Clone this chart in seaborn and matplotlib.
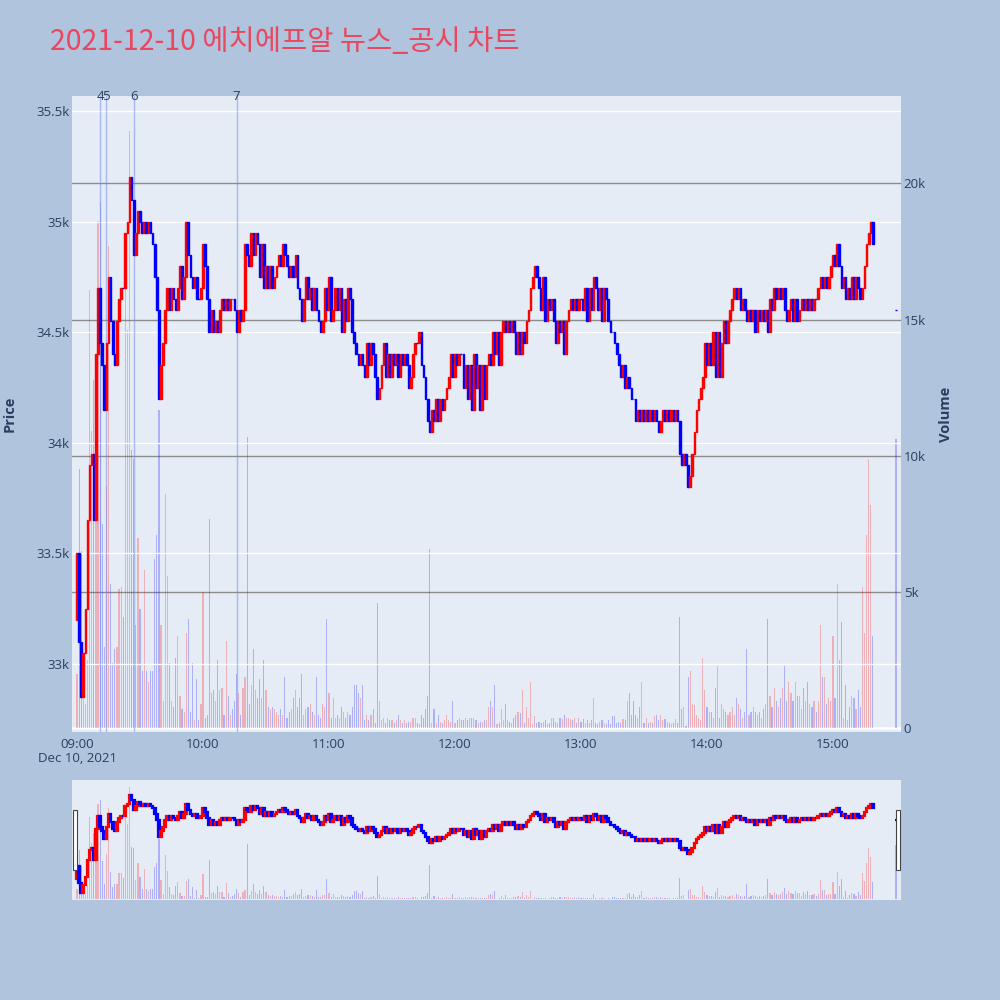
import numpy as np
import pandas as pd
import matplotlib
matplotlib.use("Agg")
import matplotlib.pyplot as plt
import matplotlib.patches as mpatches
import matplotlib.transforms as mtrans
import seaborn as sns

title_text = "2021-12-10 에치에프알 뉴스_공시 차트"

# 1-minute candles, 09:00 .. 15:19, open of first candle then closes
first_open = 33200
close_prices = [
    33500, 33100, 32850, 33050, 33250, 33650, 33900, 33950, 33650, 34400,
    34700, 34450, 34350, 34150, 34450, 34750, 34550, 34400, 34350, 34550,
    34650, 34700, 34700, 34950, 35000, 35200, 35100, 34850, 34950, 35050,
    35000, 34950, 35000, 34950, 35000, 34950, 34900, 34750, 34600, 34200,
    34350, 34450, 34600, 34700, 34600, 34700, 34650, 34600, 34700, 34800,
    34650, 34750, 35000, 34850, 34750, 34700, 34750, 34650, 34650, 34700,
    34900, 34800, 34650, 34500, 34600, 34500, 34550, 34500, 34600, 34650,
    34600, 34650, 34600, 34650, 34650, 34600, 34500, 34600, 34550, 34600,
    34900, 34850, 34800, 34950, 34850, 34950, 34900, 34750, 34900, 34700,
    34800, 34700, 34800, 34700, 34750, 34800, 34850, 34800, 34900, 34850,
    34800, 34750, 34800, 34750, 34850, 34700, 34650, 34550, 34650, 34750,
    34650, 34700, 34600, 34700, 34600, 34550, 34500, 34550, 34700, 34600,
    34750, 34550, 34600, 34700, 34600, 34700, 34500, 34650, 34550, 34700,
    34650, 34500, 34450, 34400, 34350, 34400, 34350, 34300, 34450, 34350,
    34450, 34400, 34300, 34200, 34250, 34350, 34450, 34300, 34400, 34300,
    34400, 34350, 34400, 34300, 34400, 34350, 34400, 34350, 34250, 34300,
    34400, 34450, 34450, 34500, 34350, 34300, 34200, 34100, 34050, 34150,
    34100, 34200, 34100, 34200, 34150, 34200, 34250, 34300, 34400, 34300,
    34400, 34350, 34400, 34400, 34250, 34350, 34200, 34350, 34150, 34400,
    34250, 34350, 34150, 34350, 34200, 34350, 34400, 34350, 34500, 34400,
    34500, 34350, 34500, 34550, 34500, 34550, 34500, 34550, 34500, 34400,
    34500, 34400, 34500, 34450, 34550, 34600, 34700, 34750, 34800, 34750,
    34700, 34600, 34750, 34550, 34650, 34600, 34650, 34550, 34450, 34550,
    34500, 34550, 34400, 34550, 34600, 34650, 34600, 34650, 34600, 34650,
    34650, 34600, 34700, 34550, 34700, 34600, 34750, 34700, 34600, 34700,
    34550, 34700, 34650, 34550, 34500, 34500, 34450, 34400, 34350, 34300,
    34350, 34250, 34300, 34250, 34200, 34200, 34100, 34150, 34100, 34150,
    34100, 34150, 34100, 34150, 34100, 34150, 34100, 34050, 34100, 34150,
    34100, 34150, 34100, 34150, 34100, 34150, 34100, 33950, 33900, 33950,
    33900, 33800, 33850, 33950, 34050, 34150, 34200, 34250, 34300, 34450,
    34350, 34450, 34350, 34500, 34300, 34500, 34300, 34450, 34550, 34450,
    34550, 34600, 34650, 34700, 34650, 34700, 34600, 34650, 34600, 34550,
    34600, 34550, 34600, 34500, 34600, 34550, 34600, 34550, 34600, 34500,
    34650, 34600, 34700, 34650, 34700, 34650, 34700, 34600, 34550, 34600,
    34650, 34550, 34650, 34550, 34600, 34650, 34600, 34650, 34600, 34650,
    34600, 34650, 34650, 34700, 34750, 34700, 34750, 34700, 34750, 34800,
    34850, 34800, 34900, 34800, 34700, 34750, 34650, 34700, 34650, 34750,
    34650, 34750, 34700, 34650, 34700, 34800, 34900, 34950, 35000, 34900,
]
volumes = [
    2000, 9500, 6500, 1400, 900, 2500, 16100, 10900, 12800, 8000,
    18600, 19300, 7500, 3000, 8900, 17700, 5300, 2400, 2900, 3000,
    5100, 5200, 4100, 17500, 14600, 21900, 10200, 9900, 3800, 7000,
    4400, 2100, 5800, 2100, 1700, 2100, 2100, 6200, 7100, 11700,
    3800, 1000, 8600, 5600, 2400, 1000, 800, 2600, 3400, 1200,
    700, 600, 3500, 4000, 600, 2400, 300, 1800, 300, 900,
    5000, 400, 500, 7700, 1300, 1400, 1000, 2500, 1400, 1500,
    500, 3200, 1200, 500, 700, 1000, 2000, 1300, 500, 1500,
    1900, 10700, 900, 1600, 2900, 1400, 1100, 1800, 1100, 2500,
    1400, 800, 700, 800, 700, 600, 500, 700, 500, 1900,
    400, 600, 700, 1100, 1400, 800, 1100, 2000, 500, 700,
    800, 900, 600, 500, 1900, 500, 400, 900, 800, 4000,
    1300, 400, 1100, 400, 500, 400, 800, 600, 400, 600,
    500, 800, 1600, 1600, 1300, 1100, 1600, 300, 500, 300,
    500, 700, 200, 4600, 1000, 300, 400, 200, 400, 300,
    300, 200, 300, 500, 300, 200, 300, 200, 250, 250,
    400, 400, 200, 150, 500, 400, 700, 1200, 6600, 200,
    700, 200, 500, 250, 200, 300, 500, 300, 250, 1000,
    200, 300, 400, 300, 300, 400, 300, 400, 400, 400,
    300, 200, 250, 250, 300, 300, 800, 1000, 800, 1600,
    150, 200, 700, 300, 900, 300, 250, 200, 400, 500,
    600, 550, 1400, 200, 800, 400, 1700, 150, 450, 200,
    250, 200, 250, 300, 150, 200, 400, 400, 250, 200,
    400, 350, 500, 400, 400, 350, 300, 400, 200, 400,
    250, 350, 200, 300, 200, 300, 1100, 200, 150, 250,
    300, 200, 150, 300, 150, 450, 450, 200, 250, 200,
    350, 300, 1000, 1300, 500, 1000, 500, 400, 800, 1700,
    200, 400, 200, 250, 200, 450, 500, 300, 500, 300,
    350, 250, 200, 150, 200, 350, 200, 4100, 700, 800,
    100, 1900, 2100, 900, 850, 500, 400, 300, 2600, 1400,
    800, 600, 600, 400, 1500, 2300, 400, 900, 700, 600,
    500, 600, 800, 500, 1100, 900, 700, 400, 600, 2900,
    500, 600, 800, 600, 500, 600, 400, 700, 900, 4000,
    1200, 800, 1500, 1000, 800, 1100, 1500, 2300, 1000, 1700,
    1300, 1000, 1700, 1200, 1200, 700, 1500, 1000, 1700, 900,
    800, 1000, 600, 1000, 3800, 1900, 1900, 900, 1100, 1000,
    3400, 1100, 5300, 2500, 3900, 400, 1600, 300, 800, 1200,
    1100, 700, 1400, 800, 5200, 3500, 7100, 9900, 8200, 3400,
]
# closing auction at 15:30
auction_minute = 390
auction_price = 34600
auction_volume = 10600

news_minutes = [11, 14, 27, 76]
news_labels = ["4", "5", "6", "7"]

time_ticks = [0, 60, 120, 180, 240, 300, 360]
time_labels = ["09:00", "10:00", "11:00", "12:00", "13:00", "14:00", "15:00"]
price_ticks = [33000, 33500, 34000, 34500, 35000, 35500]
volume_ticks = [0, 5000, 10000, 15000, 20000]
volume_labels = ["0", "5k", "10k", "15k", "20k"]

page_bg = "#B0C4DE"
plot_bg = "#E5ECF6"
txt_col = "#2a3f5f"
up_col = "#FF0000"
down_col = "#0000FF"

sns.set_theme(style="white")
plt.rcParams['font.family'] = ['Open Sans', 'Noto Sans CJK KR', 'DejaVu Sans']

n = len(close_prices)
df = pd.DataFrame({
    'minute': list(range(n)) + [auction_minute],
    'open': [first_open] + close_prices[:-1] + [auction_price],
    'close': close_prices + [auction_price],
    'volume': volumes + [auction_volume],
})
df['color'] = np.where(df['close'] > df['open'], up_col, down_col)


def draw_traces(ax_v, ax_p, edge_lw):
    ax_v.bar(df['minute'], df['volume'], width=0.55, color=df['color'],
             alpha=0.25, linewidth=0, zorder=2)
    ax_p.bar(df['minute'], df['close'] - df['open'], bottom=df['open'],
             width=0.8, color=df['color'], edgecolor=df['color'],
             linewidth=edge_lw, zorder=3)
    ax_v.set_xlim(-2.4, 392.4)
    ax_v.set_ylim(-130, 23200)
    ax_p.set_ylim(32693, 35568)
    for a in (ax_v, ax_p):
        a.set_facecolor(plot_bg)
        for s in a.spines.values():
            s.set_visible(False)
    ax_p.patch.set_visible(False)


fig = plt.figure(figsize=(10, 10), dpi=100, facecolor=page_bg)

# main chart: volume underneath, price on top
ax_v = fig.add_axes([0.072, 0.268, 0.829, 0.636])
ax_p = ax_v.twinx()
draw_traces(ax_v, ax_p, 1.0)

ax_v.yaxis.set_ticks_position('right')
ax_p.yaxis.set_ticks_position('left')
ax_v.set_yticks(volume_ticks, volume_labels)
ax_p.set_yticks(price_ticks, ["{:g}k".format(p / 1000) for p in price_ticks])
ax_v.set_xticks(time_ticks, time_labels)
ax_v.tick_params(axis='both', length=0, labelsize=9.5, labelcolor=txt_col)
ax_v.tick_params(axis='y', pad=2)
ax_v.tick_params(axis='x', pad=4)
ax_p.tick_params(axis='y', length=0, labelsize=9.5, labelcolor=txt_col, pad=2)

ax_v.grid(axis='y', color='#8c8c8c', linewidth=1.0)
ax_v.grid(axis='x', visible=False)
ax_v.axhline(0, color='white', linewidth=2, zorder=1.5)
ax_p.grid(axis='y', color='white', linewidth=1.0)
ax_p.grid(axis='x', visible=False)
ax_p.set_axisbelow(True)

trans = mtrans.blended_transform_factory(ax_p.transData, ax_p.transAxes)
for m, lab in zip(news_minutes, news_labels):
    ax_p.axvline(m, color='#6f8ff0', alpha=0.55, linewidth=1, zorder=2.5)
    ax_p.text(m, 1.0, lab, transform=trans, ha='center', va='center',
              fontsize=9.5, color=txt_col)

# range slider
ax_sv = fig.add_axes([0.072, 0.100, 0.829, 0.120])
ax_sp = ax_sv.twinx()
draw_traces(ax_sv, ax_sp, 1.6)
for a in (ax_sv, ax_sp):
    a.set_xticks([])
    a.set_yticks([])
    a.grid(False)

for hx in (0.073, 0.896):
    fig.patches.append(mpatches.Rectangle((hx, 0.130), 0.004, 0.060,
                                          transform=fig.transFigure,
                                          facecolor='white', edgecolor='#444444',
                                          linewidth=0.8, zorder=5))

fig.text(0.05, 0.958, title_text, fontsize=20.5, color='#E9475F',
         family=['Noto Sans CJK KR', 'DejaVu Sans'], ha='left', va='center')
fig.text(0.077, 0.242, "Dec 10, 2021", fontsize=9.5, color=txt_col,
         ha='center', va='center')
fig.text(0.010, 0.586, "Price", rotation=90, fontsize=10.5, fontweight='bold',
         color=txt_col, ha='center', va='center')
fig.text(0.946, 0.586, "Volume", rotation=90, fontsize=10.5, fontweight='bold',
         color=txt_col, ha='center', va='center')

fig.savefig("out.png", dpi=100, facecolor=page_bg)
